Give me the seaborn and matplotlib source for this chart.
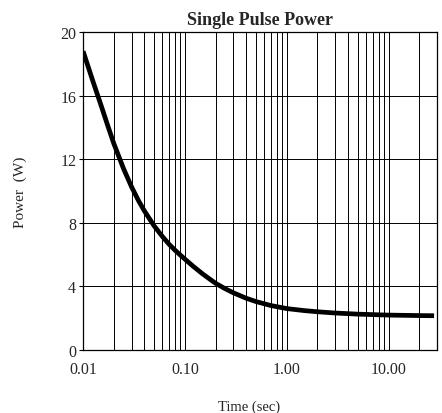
import matplotlib
matplotlib.use("Agg")
import matplotlib.pyplot as plt
import matplotlib.ticker as mticker
import numpy as np
import pandas as pd
import seaborn as sns

# Pulse duration (s) and allowed single-pulse power (W)
time_sec = [0.01, 0.0125, 0.015, 0.0175, 0.02, 0.025, 0.03, 0.035, 0.04, 0.05,
            0.06, 0.07, 0.08, 0.09, 0.1, 0.12, 0.15, 0.2, 0.25, 0.3, 0.4, 0.5,
            0.7, 1.0, 1.5, 2.0, 3.0, 5.0, 10.0, 20.0, 28.0]
power_w = [18.8, 16.9, 15.4, 14.1, 13.0, 11.4, 10.25, 9.4, 8.75, 7.8,
           7.15, 6.65, 6.28, 5.98, 5.72, 5.28, 4.78, 4.2, 3.85, 3.6, 3.26, 3.05,
           2.8, 2.61, 2.48, 2.41, 2.33, 2.26, 2.2, 2.17, 2.16]

x_ticks = [0.01, 0.1, 1.0, 10.0]
x_tick_labels = ["0.01", "0.10", "1.00", "10.00"]
y_ticks = [0, 4, 8, 12, 16, 20]

sns.set_style("white")
plt.rcParams["font.family"] = ["Liberation Serif", "DejaVu Serif"]

df = pd.DataFrame({"Time": time_sec, "Power": power_w})

fig = plt.figure(figsize=(4.42, 4.14), dpi=100)
ax = fig.add_axes([0.188, 0.152, 0.801, 0.768])

ax.set_xscale("log")
sns.lineplot(data=df, x="Time", y="Power", ax=ax, color="black", linewidth=3.4,
             solid_capstyle="butt", solid_joinstyle="round")

ax.set_xlim(0.01, 30)
ax.set_ylim(0, 20)

ax.xaxis.set_major_locator(mticker.FixedLocator(x_ticks))
ax.xaxis.set_major_formatter(mticker.FixedFormatter(x_tick_labels))
ax.xaxis.set_minor_locator(mticker.LogLocator(base=10, subs=np.arange(2, 10)))
ax.xaxis.set_minor_formatter(mticker.NullFormatter())
ax.set_yticks(y_ticks)

ax.grid(True, which="both", axis="x", color="black", linewidth=0.7)
ax.grid(True, which="major", axis="y", color="black", linewidth=0.7)

for s in ax.spines.values():
    s.set_color("black")
    s.set_linewidth(0.9)

ax.tick_params(axis="x", which="both", length=0, pad=8, labelsize=11.5)
ax.tick_params(axis="y", which="major", length=3, width=0.8, color="black",
               pad=2, labelsize=11.5, direction="out", left=True)

ax.set_title("Single Pulse Power", fontsize=13, fontweight="bold", pad=6)
ax.set_xlabel("Time (sec)", fontsize=10.5)
ax.xaxis.set_label_coords(0.47, -0.155)
ax.xaxis.label.set_va("top")
ax.set_ylabel("Power  (W)", fontsize=11, labelpad=24)

fig.savefig("out.png", dpi=100)
